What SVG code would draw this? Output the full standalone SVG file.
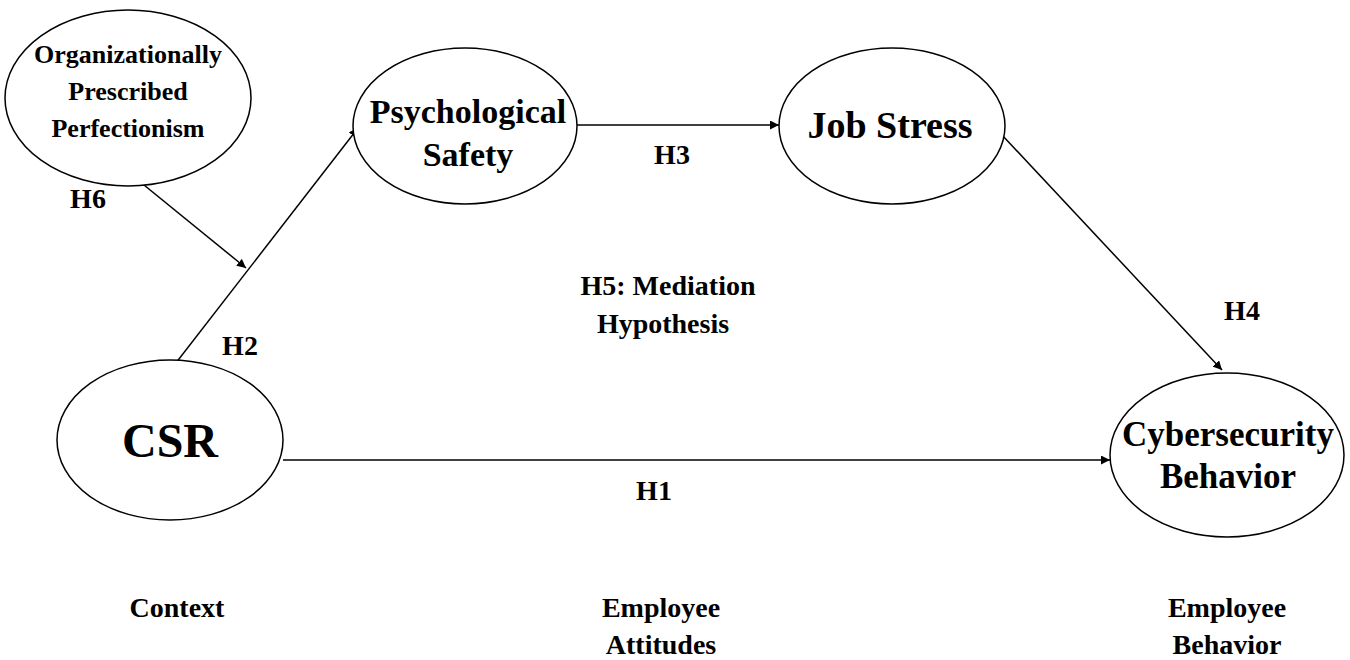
<svg xmlns="http://www.w3.org/2000/svg" width="1350" height="660" viewBox="0 0 1350 660">
<style>
text{font-family:"Liberation Serif",serif;font-weight:bold;fill:#000;text-anchor:middle}
ellipse{fill:#fff;stroke:#000;stroke-width:1.5}
.c line{stroke:#000;stroke-width:1.5;marker-end:url(#a)}
.l{font-size:28px}
</style>
<defs><marker id="a" viewBox="0 0 10 10" refX="10" refY="5" markerWidth="9" markerHeight="9" markerUnits="userSpaceOnUse" orient="auto"><path d="M0,0L10,5L0,10z" fill="#000"/></marker></defs>
<rect width="1350" height="660" fill="#fff"/>
<g class="c">
<line x1="172" y1="368" x2="358" y2="128"/>
<line x1="128" y1="172" x2="246" y2="268"/>
<line x1="577" y1="125" x2="779" y2="125"/>
<line x1="1002" y1="135" x2="1222" y2="370"/>
<line x1="283" y1="460" x2="1110" y2="460"/>
</g>
<g id="opp"><ellipse cx="128" cy="98" rx="123" ry="88"/>
<text font-size="26" x="128" y="63">Organizationally</text><text font-size="26" x="128" y="100">Prescribed</text><text font-size="26" x="128" y="137">Perfectionism</text></g>
<g id="ps"><ellipse cx="465" cy="126" rx="112" ry="78"/>
<text font-size="34" x="468" y="123">Psychological</text><text font-size="34" x="468" y="166">Safety</text></g>
<g id="js"><ellipse cx="892" cy="126" rx="113" ry="78"/>
<text font-size="38" x="890" y="138">Job Stress</text></g>
<g id="csr"><ellipse cx="170" cy="440" rx="113" ry="80"/>
<text font-size="48" x="170" y="457">CSR</text></g>
<g id="cyber"><ellipse cx="1227" cy="455" rx="117" ry="82"/>
<text font-size="35" x="1228" y="446">Cybersecurity</text><text font-size="35" x="1228" y="488">Behavior</text></g>
<g class="l">
<text x="88" y="208">H6</text>
<text x="240" y="355">H2</text>
<text x="672" y="164">H3</text>
<text x="1242" y="320">H4</text>
<text x="654" y="500">H1</text>
<text x="668" y="295">H5: Mediation</text>
<text x="663" y="333">Hypothesis</text>
<text x="177" y="617">Context</text>
<text x="661" y="617">Employee</text>
<text x="661" y="654">Attitudes</text>
<text x="1227" y="617">Employee</text>
<text x="1227" y="654">Behavior</text>
</g>
</svg>
